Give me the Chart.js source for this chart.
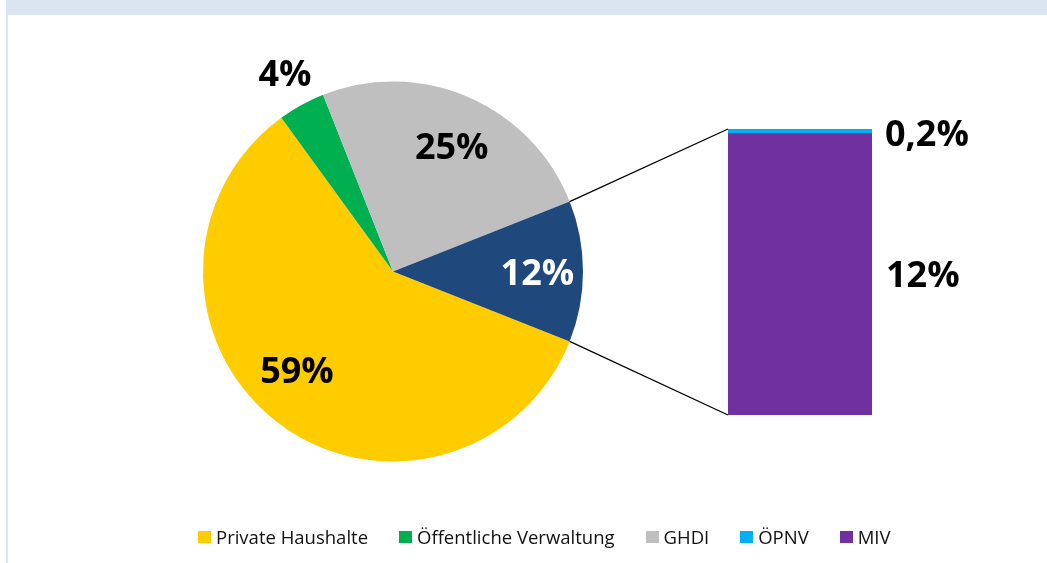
<!DOCTYPE html>
<html>
<head>
<meta charset="utf-8">
<script src="https://cdn.jsdelivr.net/npm/chart.js@4.4.0/dist/chart.umd.min.js"></script>
<style>
    html, body { margin: 0; padding: 0; background: #fff; }
    #wrap { position: relative; width: 1047px; height: 563px; overflow: hidden; background: #fff; }
    #band { position: absolute; left: 6px; top: 0; width: 1041px; height: 15px; background: #dbe5f1; }
    #edge { position: absolute; left: 6px; top: 0; width: 2px; height: 563px; background: #dbe5f1; }
    canvas { position: absolute; left: 0; top: 0; }
    #legend { position: absolute; left: 198px; top: 524px; display: flex; align-items: center;
              font-family: "Open Sans", sans-serif; font-size: 18.5px; color: #111; white-space: nowrap; }
    #legend .item { display: flex; align-items: center; margin-right: 31px; }
    #legend .box { width: 13px; height: 12px; margin-right: 5px; }
</style>
</head>
<body>
<div id="wrap">
    <div id="band"></div>
    <div id="edge"></div>
    <canvas id="pieChart" width="1047" height="563"></canvas>
    <canvas id="barChart" width="1047" height="563"></canvas>
    <div id="legend"></div>
</div>
<script>
// Kreis: Anteile nach Sektor
const pieLabels = ['Private Haushalte', 'Öffentliche Verwaltung', 'GHDI', 'Verkehr'];
const pieValues = [59, 4, 25, 12];
const pieText = ['59%', '4%', '25%', '12%'];
const pieColors = ['#ffcc00', '#00b050', '#bfbfbf', '#1f497d'];

// Balken: Aufteilung Verkehr
const barLabels = ['MIV', 'ÖPNV'];
const barValues = [12, 0.2];
const barText = ['12%', '0,2%'];
const barColors = ['#7030a0', '#00b0f0'];

// Legende in Reihenfolge der Vorlage
const legendLabels = ['Private Haushalte', 'Öffentliche Verwaltung', 'GHDI', 'ÖPNV', 'MIV'];
const legendColors = ['#ffcc00', '#00b050', '#bfbfbf', '#00b0f0', '#7030a0'];

const labelFont = 'bold 36px "Open Sans", sans-serif';

// Beschriftung der Kreissegmente
const pieLabelPlugin = {
    id: 'pieLabels',
    afterDatasetsDraw(chart) {
        const ctx = chart.ctx;
        const meta = chart.getDatasetMeta(0);
        const radius = [0.73, 1.18, 0.72, 0.76];
        const shift = [6, 0, 2, 0];
        const colors = ['#000', '#000', '#000', '#fff'];
        ctx.save();
        ctx.font = labelFont;
        ctx.textAlign = 'center';
        ctx.textBaseline = 'middle';
        meta.data.forEach((arc, i) => {
            const mid = (arc.startAngle + arc.endAngle) / 2 + shift[i] * Math.PI / 180;
            const r = arc.outerRadius * radius[i];
            const dy = i === 3 ? 3 : 1;
            ctx.fillStyle = colors[i];
            ctx.fillText(pieText[i], arc.x + Math.cos(mid) * r, arc.y + Math.sin(mid) * r + dy);
        });
        ctx.restore();
    }
};

const pieChart = new Chart(document.getElementById('pieChart'), {
    type: 'pie',
    data: {
        labels: pieLabels,
        datasets: [{
            data: pieValues,
            backgroundColor: pieColors,
            borderWidth: 0
        }]
    },
    options: {
        responsive: false,
        animation: false,
        rotation: 111.6,
        layout: { padding: { left: 203, right: 464, top: 81, bottom: 101 } },
        plugins: {
            legend: { display: false },
            tooltip: { enabled: false }
        }
    },
    plugins: [pieLabelPlugin]
});

// Verbindungslinien und Balkenbeschriftung
const barExtrasPlugin = {
    id: 'barExtras',
    afterDatasetsDraw(chart) {
        const ctx = chart.ctx;
        const arc = pieChart.getDatasetMeta(0).data[3];
        const bottom = chart.getDatasetMeta(0).data[0];
        const top = chart.getDatasetMeta(1).data[0];
        const left = bottom.x - bottom.width / 2;
        const right = bottom.x + bottom.width / 2;

        ctx.save();
        ctx.strokeStyle = '#000';
        ctx.lineWidth = 1.3;
        ctx.beginPath();
        ctx.moveTo(arc.x + Math.cos(arc.startAngle) * arc.outerRadius, arc.y + Math.sin(arc.startAngle) * arc.outerRadius);
        ctx.lineTo(left, top.y);
        ctx.moveTo(arc.x + Math.cos(arc.endAngle) * arc.outerRadius, arc.y + Math.sin(arc.endAngle) * arc.outerRadius);
        ctx.lineTo(left, bottom.base);
        ctx.stroke();

        ctx.font = labelFont;
        ctx.fillStyle = '#000';
        ctx.textAlign = 'left';
        ctx.textBaseline = 'middle';
        ctx.fillText(barText[0], right + 14, (bottom.y + bottom.base) / 2 + 2);
        ctx.fillText(barText[1], right + 13, (top.y + top.base) / 2 + 4);
        ctx.restore();
    }
};

new Chart(document.getElementById('barChart'), {
    type: 'bar',
    data: {
        labels: ['Verkehr'],
        datasets: barLabels.map((label, i) => ({
            label: label,
            data: [barValues[i]],
            backgroundColor: barColors[i],
            borderWidth: 0,
            barPercentage: 1,
            categoryPercentage: 1
        }))
    },
    options: {
        responsive: false,
        animation: false,
        layout: { padding: { left: 728, right: 175, top: 129, bottom: 148 } },
        scales: {
            x: { display: false, stacked: true },
            y: { display: false, stacked: true, min: 0, max: barValues[0] + barValues[1] }
        },
        plugins: {
            legend: { display: false },
            tooltip: { enabled: false }
        }
    },
    plugins: [barExtrasPlugin]
});

// HTML-Legende
const legendDiv = document.getElementById('legend');
legendLabels.forEach((label, i) => {
    const item = document.createElement('div');
    item.className = 'item';
    item.innerHTML = '<span class="box" style="background:' + legendColors[i] + '"></span><span>' + label + '</span>';
    legendDiv.appendChild(item);
});
</script>
</body>
</html>
